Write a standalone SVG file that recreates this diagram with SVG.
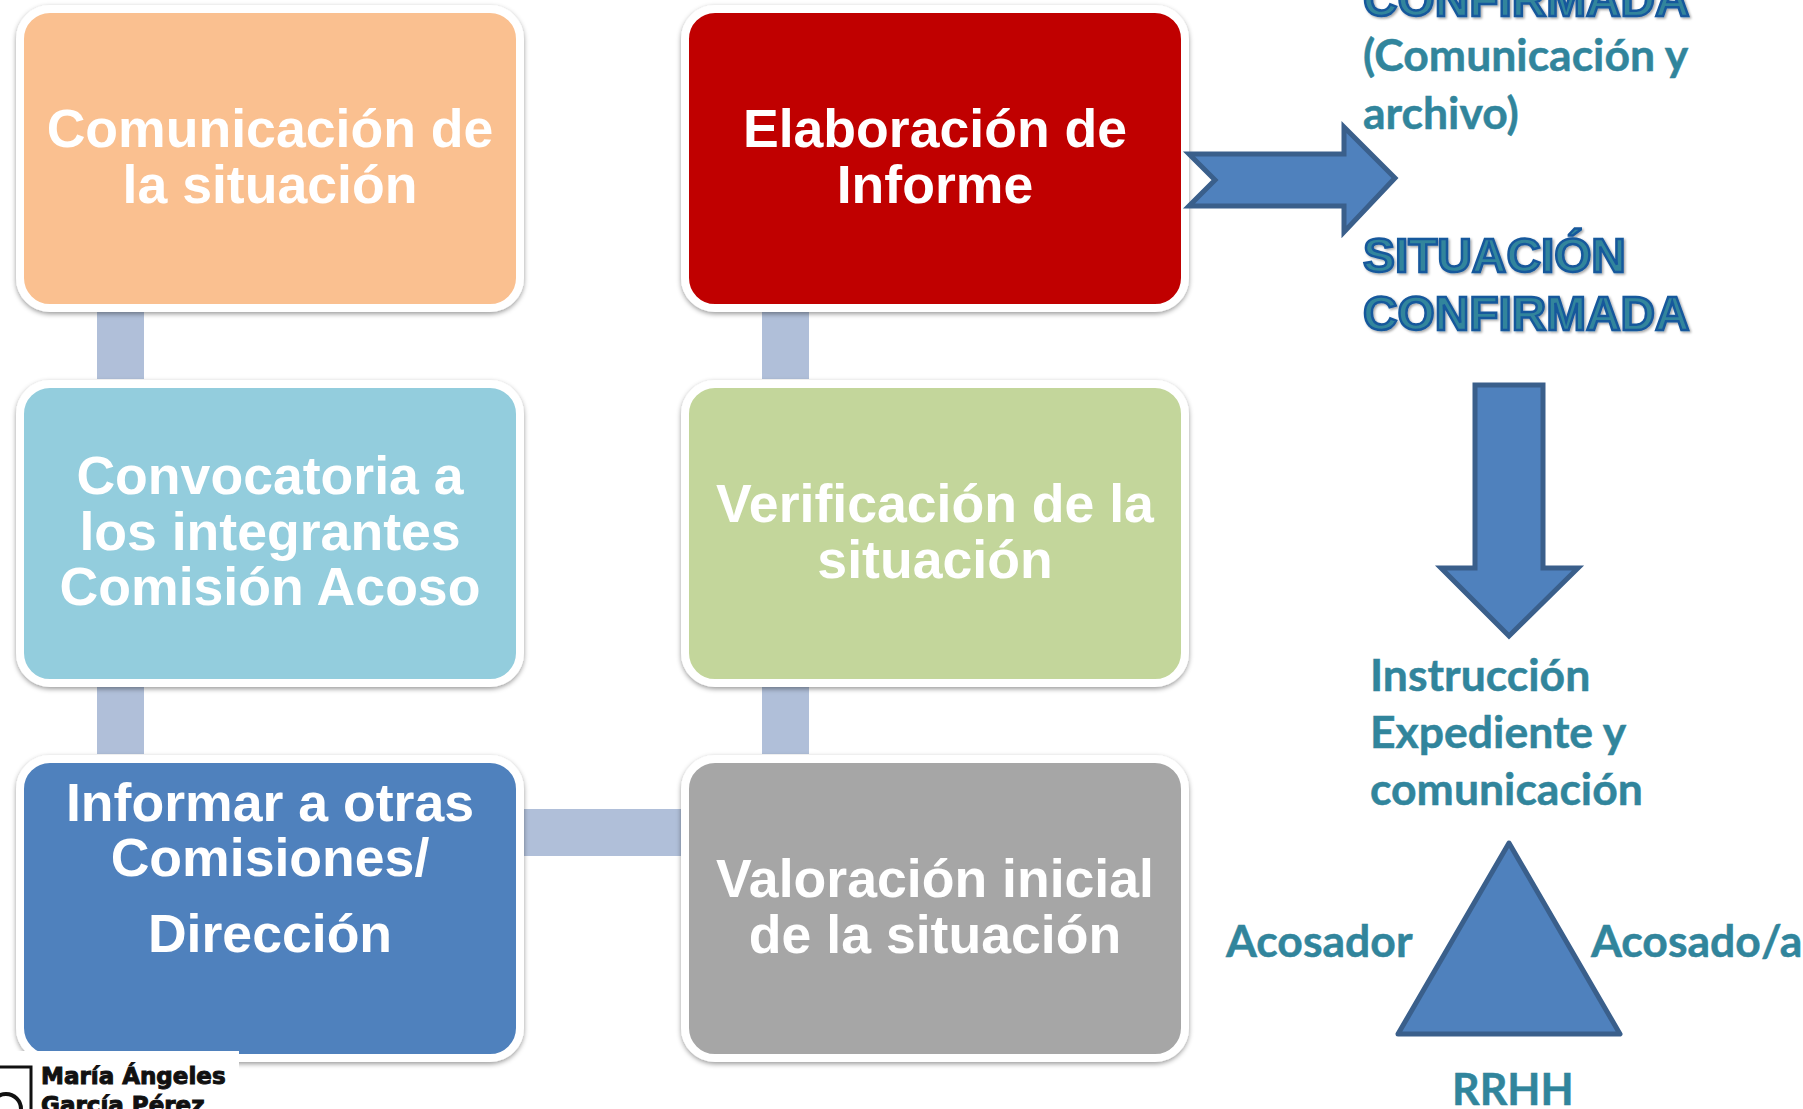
<svg xmlns="http://www.w3.org/2000/svg" width="1803" height="1109" viewBox="0 0 1803 1109">
<style>
.box{stroke:#fff;stroke-width:8;filter:url(#sh)}
.t{font-family:"Liberation Sans",Arial,sans-serif;font-weight:700;font-size:53.6px;fill:#fff;text-anchor:middle}
.c{font-family:Lato,"Open Sans",sans-serif;font-weight:700;font-size:44.5px;fill:#31859c;stroke:#31859c;stroke-width:.5px}
.w{font-family:"Liberation Sans",Arial,sans-serif;font-weight:700;font-size:47.8px;fill:#31859c;stroke:#17589c;stroke-width:2.5px;filter:url(#ts)}
.a{fill:#4f81bd;stroke:#3a5f8b;stroke-width:5;stroke-miterlimit:10}
.l{font-family:"DejaVu Sans",sans-serif;font-weight:700;font-size:23px;fill:#111;stroke:#111;stroke-width:1px}
.conn{fill:#b0bfd9}
</style>
<defs>
<filter id="sh" x="-5%" y="-5%" width="110%" height="112%"><feDropShadow dx="0" dy="2" stdDeviation="2.5" flood-color="#000" flood-opacity=".4"/></filter>
<filter id="ts" x="-5%" y="-10%" width="110%" height="130%"><feDropShadow dx="1.5" dy="1.5" stdDeviation="1" flood-color="#000" flood-opacity=".35"/></filter>
</defs>
<rect width="1803" height="1109" fill="#fff"/>
<g id="connectors">
<rect class="conn" x="97" y="305" width="47" height="74"/>
<rect class="conn" x="762" y="305" width="47" height="74"/>
<rect class="conn" x="97" y="680" width="47" height="74"/>
<rect class="conn" x="762" y="680" width="47" height="74"/>
<rect class="conn" x="516" y="809" width="172" height="47"/>
</g>
<g id="n1"><rect class="box" x="20" y="9" width="500" height="299" rx="30" fill="#fac090"/><text class="t" x="270" y="147">Comunicación de</text><text class="t" x="270" y="203">la situación</text></g>
<g id="n2"><rect class="box" x="20" y="384" width="500" height="299" rx="30" fill="#93cddd"/><text class="t" x="270" y="494">Convocatoria a</text><text class="t" x="270" y="550">los integrantes</text><text class="t" x="270" y="605">Comisión Acoso</text></g>
<g id="n3"><rect class="box" x="20" y="759" width="500" height="299" rx="30" fill="#4f81bd"/><text class="t" x="270" y="821">Informar a otras</text><text class="t" x="270" y="876">Comisiones/</text><text class="t" x="270" y="952">Dirección</text></g>
<g id="n4"><rect class="box" x="685" y="759" width="500" height="299" rx="30" fill="#a6a6a6"/><text class="t" x="935" y="897">Valoración inicial</text><text class="t" x="935" y="953">de la situación</text></g>
<g id="n5"><rect class="box" x="685" y="384" width="500" height="299" rx="30" fill="#c3d69b"/><text class="t" x="935" y="522">Verificación de la</text><text class="t" x="935" y="578">situación</text></g>
<g id="n6"><rect class="box" x="685" y="9" width="500" height="299" rx="30" fill="#c00000"/><text class="t" x="935" y="147">Elaboración de</text><text class="t" x="935" y="203">Informe</text></g>
<g id="arrow-right"><path class="a" d="M1189 154H1344V127L1395 178L1344 232V206H1189L1215 180Z"/></g>
<g id="arrow-down"><path class="a" d="M1475 385H1543V568H1578L1509 636L1441 568H1475Z"/></g>
<g id="triangle"><path class="a" stroke-linejoin="round" d="M1509 843L1620 1034H1398Z"/></g>
<g id="labels">
<text class="w" x="1363" y="16">CONFIRMADA</text>
<text class="c" x="1363" y="71">(Comunicación y</text>
<text class="c" x="1363" y="129">archivo)</text>
<text class="w" x="1363" y="272">SITUACIÓN</text>
<text class="w" x="1363" y="330">CONFIRMADA</text>
<text class="c" x="1370" y="691">Instrucción</text>
<text class="c" x="1370" y="748">Expediente y</text>
<text class="c" x="1370" y="805">comunicación</text>
<text class="c" x="1226" y="957">Acosador</text>
<text class="c" x="1591" y="957">Acosado/a</text>
<text class="c" style="font-size:43px" x="1452" y="1105">RRHH</text>
</g>
<g id="logo">
<rect x="0" y="1051" width="239" height="58" fill="#fff"/>
<path d="M-5 1067H31V1109" fill="none" stroke="#111" stroke-width="3"/>
<circle cx="6" cy="1109" r="15" fill="none" stroke="#111" stroke-width="4"/>
<text class="l" x="41" y="1084">María Ángeles</text>
<text class="l" x="41" y="1113">García Pérez</text>
</g>
</svg>
